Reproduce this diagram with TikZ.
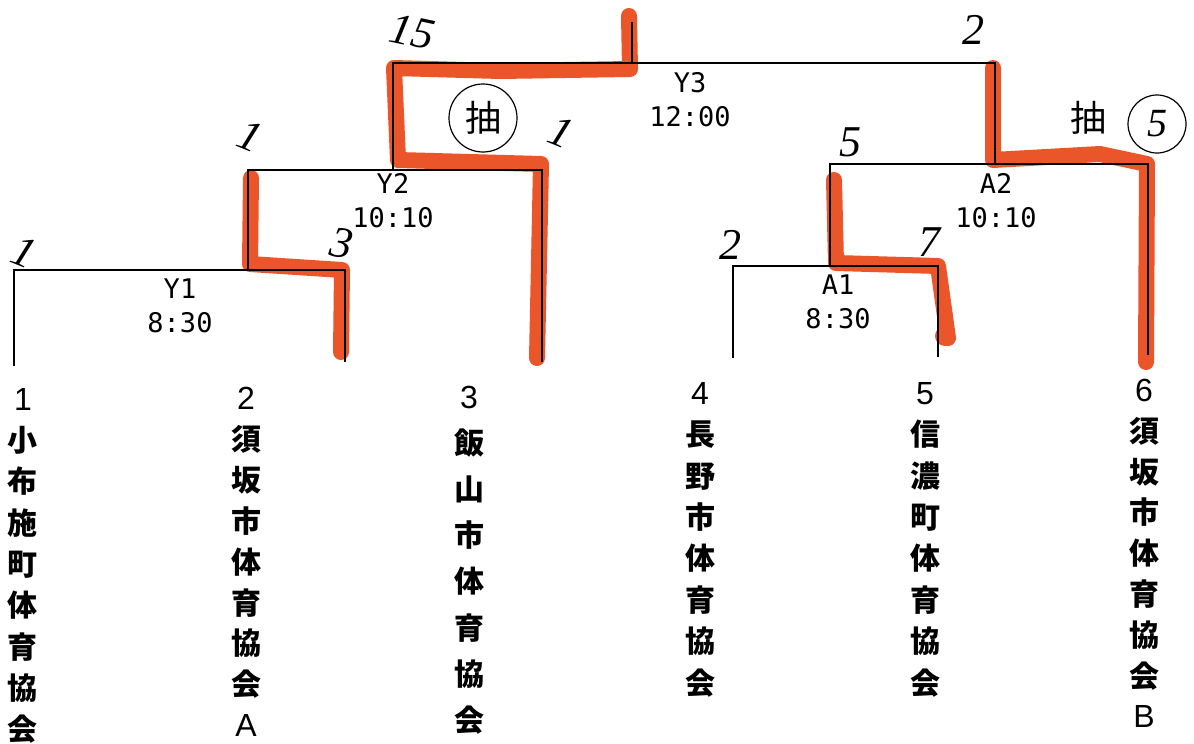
\documentclass[tikz,border=0pt]{standalone}
\usepackage{fontspec}
\setmainfont{Liberation Sans}
\newfontfamily\jp{Noto Sans CJK JP}
\newfontfamily\mono{DejaVu Sans Mono}
\newfontfamily\hand{Liberation Serif}
\definecolor{marker}{RGB}{234,86,42}
\newcommand{\jb}[1]{{\jp\bfseries\fontsize{30}{30}\selectfont #1}}
\begin{document}
\begin{tikzpicture}[x=1pt,y=-1pt,
  bline/.style={line width=1.2pt, black},
  redpath/.style={line width=16pt, marker, line cap=round, line join=round},
  lbl/.style={font=\mono\fontsize{27}{34}\selectfont, inner sep=0pt, align=center},
  team/.style={inner sep=0pt, anchor=north, align=center},
  hw/.style={font=\hand\itshape\fontsize{44}{44}\selectfont, inner sep=0pt},
  hwjp/.style={font=\jp\fontsize{36}{36}\selectfont, inner sep=0pt},
  circ/.style={draw, circle, line width=1.2pt},
]
\useasboundingbox[fill=white] (0,0) rectangle (1194,744);

% bracket coordinates
\coordinate (y1l) at (14,270);   \coordinate (y1lb) at (14,366);
\coordinate (y1r) at (345,270);  \coordinate (y1rb) at (345,362);
\coordinate (y2l) at (248,170);  \coordinate (y2lb) at (248,270);
\coordinate (y2r) at (542,170);  \coordinate (y2rb) at (542,362);
\coordinate (y3l) at (393,63);   \coordinate (y3lb) at (393,170);
\coordinate (y3r) at (995,63);   \coordinate (y3rb) at (995,164);
\coordinate (y3t) at (632,22);   \coordinate (y3m) at (632,63);
\coordinate (a1l) at (733,266);  \coordinate (a1lb) at (733,358);
\coordinate (a1r) at (938,266);  \coordinate (a1rb) at (938,357);
\coordinate (a2l) at (830,164);  \coordinate (a2lb) at (830,266);
\coordinate (a2r) at (1148,164); \coordinate (a2rb) at (1148,355);

% red marker paths
\draw[redpath] (341,352) -- (342,270) -- (250,264) -- (251,178);
\draw[redpath] (537,358) -- (541,164) -- (398,160) -- (394,68) -- (500,71) -- (630,69) -- (629,16);
\draw[redpath] (1146,362) -- (1147,164) -- (1100,154) -- (993,160) -- (993,68);
\draw[redpath] (948,338) -- (938,266) -- (836,263) -- (834,180);
\fill[marker] (945,336) circle (10pt);

% black bracket lines
\draw[bline] (y1lb) -- (y1l) -- (y1r) -- (y1rb);
\draw[bline] (y2lb) -- (y2l) -- (y2r) -- (y2rb);
\draw[bline] (y3lb) -- (y3l) -- (y3r) -- (y3rb);
\draw[bline] (y3t) -- (y3m);
\draw[bline] (a1lb) -- (a1l) -- (a1r) -- (a1rb);
\draw[bline] (a2lb) -- (a2l) -- (a2r) -- (a2rb);

% match labels
\node[lbl] (m1) at (180,306) {Y1\\8:30};
\node[lbl] (m2) at (393,201) {Y2\\10:10};
\node[lbl] (m3) at (690,100) {Y3\\12:00};
\node[lbl] (m4) at (838,302) {A1\\8:30};
\node[lbl] (m5) at (996,201) {A2\\10:10};

% teams
\node[team, font=\fontsize{32}{41.3}\selectfont] (t1) at (23,388)
  {1\\\jb{小}\\\jb{布}\\\jb{施}\\\jb{町}\\\jb{体}\\\jb{育}\\\jb{協}\\\jb{会}};
\node[team, font=\fontsize{32}{40.9}\selectfont] (t2) at (246,387)
  {2\\\jb{須}\\\jb{坂}\\\jb{市}\\\jb{体}\\\jb{育}\\\jb{協}\\\jb{会}\\A};
\node[team, font=\fontsize{32}{46.1}\selectfont] (t3) at (469,386)
  {3\\\jb{飯}\\\jb{山}\\\jb{市}\\\jb{体}\\\jb{育}\\\jb{協}\\\jb{会}};
\node[team, font=\fontsize{32}{41.4}\selectfont] (t4) at (700,382)
  {4\\\jb{長}\\\jb{野}\\\jb{市}\\\jb{体}\\\jb{育}\\\jb{協}\\\jb{会}};
\node[team, font=\fontsize{32}{41.4}\selectfont] (t5) at (925,382)
  {5\\\jb{信}\\\jb{濃}\\\jb{町}\\\jb{体}\\\jb{育}\\\jb{協}\\\jb{会}};
\node[team, font=\fontsize{32}{40.8}\selectfont] (t6) at (1144,379)
  {6\\\jb{須}\\\jb{坂}\\\jb{市}\\\jb{体}\\\jb{育}\\\jb{協}\\\jb{会}\\B};

% handwritten scores
\node[hw, rotate=-22] (s1) at (24,252) {1};
\node[hw, rotate=-10] (s2) at (342,243) {3};
\node[hw, rotate=-22] (s3) at (250,136) {1};
\node[hw, rotate=-12] (s4) at (412,32) {15};
\node[hw, rotate=-22] (s5) at (561,132) {1};
\node[hw] (s6) at (973,30) {2};
\node[hw] (s7) at (850,142) {5};
\node[hw] (s8) at (730,245) {2};
\node[hw] (s9) at (929,242) {7};
\node[hwjp, circ, minimum size=68pt] (d1) at (483,118) {抽};
\node[hwjp] (d2) at (1088,118) {抽};
\node[hw, circ, minimum size=58pt, font=\hand\itshape\fontsize{40}{40}\selectfont] (d3) at (1157,124) {5};
\end{tikzpicture}
\end{document}
